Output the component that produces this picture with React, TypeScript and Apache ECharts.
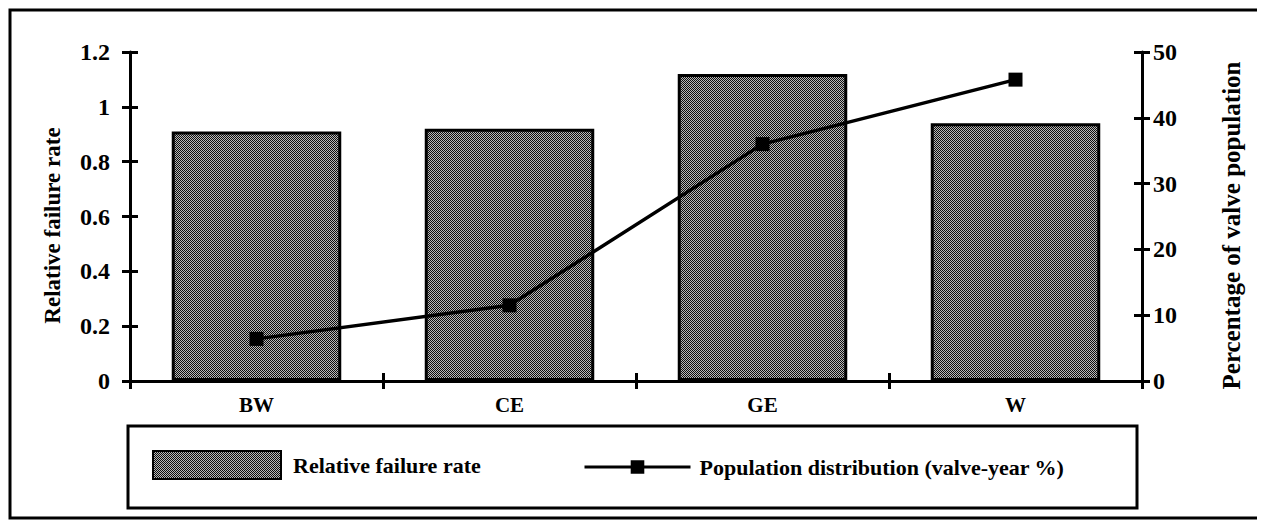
import React, { useEffect, useRef } from "react";
import * as echarts from "echarts";

const categories = ["BW", "CE", "GE", "W"];
const failureRate = [0.91, 0.92, 1.12, 0.94];
const populationPct = [6.4, 11.5, 36, 45.8];
const leftAxis = { min: 0, max: 1.2, interval: 0.2 };
const rightAxis = { min: 0, max: 50, interval: 10 };
const barName = "Relative failure rate";
const lineName = "Population distribution (valve-year %)";
const leftTitle = "Relative failure rate";
const rightTitle = "Percentage of valve population";

const FONT = "'Liberation Serif', 'Times New Roman', serif";

function makePattern(): any {
  const c = document.createElement("canvas");
  c.width = 2;
  c.height = 2;
  const ctx = c.getContext("2d")!;
  ctx.fillStyle = "#0d0d0d";
  ctx.fillRect(0, 0, 2, 2);
  ctx.fillStyle = "#b8b8b8";
  ctx.fillRect(1, 0, 1, 1);
  ctx.fillRect(0, 1, 1, 1);
  return { image: c, repeat: "repeat" };
}

export default function App() {
  const ref = useRef<HTMLDivElement>(null);
  useEffect(() => {
    if (!ref.current) return;
    const chart = echarts.init(ref.current, null, { renderer: "svg" });
    const pattern = makePattern();
    const axisLine = { show: true, lineStyle: { color: "#000", width: 3 } };
    const tickStyle = { color: "#000", width: 3 };
    const labelStyle = { color: "#000", fontFamily: FONT, fontWeight: "bold" as const, fontSize: 22 };
    const nameStyle = { color: "#000", fontFamily: FONT, fontWeight: "bold" as const, padding: [0, 18, 0, 0] };
    chart.setOption({
      animation: false,
      backgroundColor: "#fff",
      grid: { left: 122, right: 123, top: 44, height: 329, containLabel: false },
      legend: [
        {
          data: [barName],
          left: 144,
          top: 442,
          padding: 0,
          icon: "rect",
          itemWidth: 128,
          itemHeight: 28,
          itemStyle: { borderWidth: 2, borderColor: "#000" },
          textStyle: { ...labelStyle, padding: [0, 0, 0, 7] },
        },
        {
          data: [lineName],
          left: 575,
          top: 448,
          padding: 0,
          itemWidth: 106,
          itemHeight: 17,
          lineStyle: { width: 3, color: "#000" },
          textStyle: { ...labelStyle, padding: [0, 0, 0, 4] },
        },
      ],
      xAxis: [
        {
          type: "category",
          data: categories,
          axisLine,
          axisTick: { show: true, length: 8, lineStyle: tickStyle },
          axisLabel: { ...labelStyle, fontSize: 21, margin: 13 },
          splitLine: { show: false },
        },
        {
          type: "category",
          data: categories,
          position: "bottom",
          axisLine: { show: false },
          axisTick: { show: true, inside: true, length: 8, lineStyle: tickStyle },
          axisLabel: { show: false },
          splitLine: { show: false },
        },
      ],
      yAxis: [
        {
          type: "value",
          position: "left",
          ...leftAxis,
          name: leftTitle,
          nameLocation: "middle",
          nameRotate: 90,
          nameGap: 66,
          nameTextStyle: { ...nameStyle, fontSize: 23 },
          axisLine,
          axisTick: { show: true, length: 8, lineStyle: tickStyle },
          axisLabel: { ...labelStyle, fontSize: 24, margin: 20 },
          splitLine: { show: false },
        },
        {
          type: "value",
          position: "right",
          ...rightAxis,
          name: rightTitle,
          nameLocation: "middle",
          nameRotate: 90,
          nameGap: 77,
          nameTextStyle: { ...nameStyle, fontSize: 25 },
          axisLine,
          axisTick: { show: true, length: 8, lineStyle: tickStyle },
          axisLabel: { ...labelStyle, fontSize: 24, margin: 11 },
          splitLine: { show: false },
        },
        {
          type: "value",
          position: "left",
          ...leftAxis,
          axisLine: { show: false },
          axisTick: { show: true, inside: true, length: 8, lineStyle: tickStyle },
          axisLabel: { show: false },
          splitLine: { show: false },
        },
        {
          type: "value",
          position: "right",
          ...rightAxis,
          axisLine: { show: false },
          axisTick: { show: true, inside: true, length: 8, lineStyle: tickStyle },
          axisLabel: { show: false },
          splitLine: { show: false },
        },
      ],
      series: [
        {
          name: barName,
          type: "bar",
          data: failureRate,
          xAxisIndex: 0,
          yAxisIndex: 0,
          barCategoryGap: "33%",
          itemStyle: { color: pattern, borderColor: "#000", borderWidth: 3 },
        },
        {
          name: lineName,
          type: "line",
          data: populationPct,
          xAxisIndex: 0,
          yAxisIndex: 1,
          symbol: "rect",
          symbolSize: 14,
          lineStyle: { color: "#000", width: 3.5 },
          itemStyle: { color: "#000" },
          z: 5,
        },
      ],
      graphic: [
        {
          type: "rect",
          shape: { x: 2, y: 2, width: 1300, height: 508 },
          style: { fill: "none", stroke: "#000", lineWidth: 3 },
          silent: true,
        },
        {
          type: "rect",
          shape: { x: 120, y: 418, width: 1009, height: 82 },
          style: { fill: "none", stroke: "#000", lineWidth: 3 },
          silent: true,
        },
      ],
    });
    return () => chart.dispose();
  }, []);
  return <div ref={ref} style={{ width: 1257, height: 513 }} />;
}
